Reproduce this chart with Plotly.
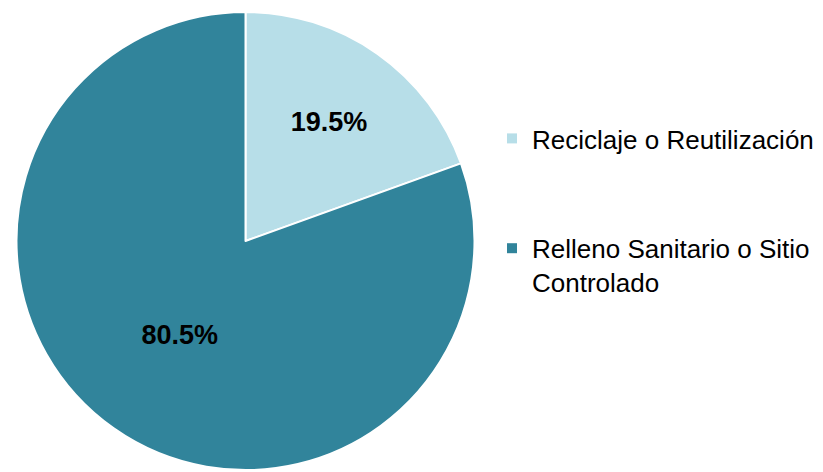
import plotly.graph_objects as go

categories = ["Reciclaje o Reutilización", "Relleno Sanitario o Sitio Controlado"]
legend_names = ["Reciclaje o Reutilización", "Relleno Sanitario o Sitio<br>Controlado"]
values = [19.5, 80.5]
colors = ["#B7DEE8", "#31849B"]

W, H = 823, 472
fig = go.Figure()
fig.add_trace(go.Pie(
    labels=categories, values=values, sort=False, direction="clockwise", rotation=0,
    marker=dict(colors=colors, line=dict(color="white", width=2)),
    texttemplate="<b>%{percent:.1%}</b>", textposition="inside",
    insidetextorientation="horizontal",
    textfont=dict(family="Arial, Liberation Sans", size=27, color="black"),
    showlegend=False, hoverinfo="skip",
    domain=dict(x=[7 / W, 468 / W], y=[10 / H, 468 / H]),
))
for i, (name, c) in enumerate(zip(legend_names, colors)):
    fig.add_trace(go.Scatter(
        x=[None], y=[None], mode="markers", name=name,
        marker=dict(symbol="square", size=10, color=c),
        legendgroup=f"g{i}", showlegend=True,
    ))

fig.update_layout(
    width=W, height=H, margin=dict(l=0, r=0, t=0, b=0),
    paper_bgcolor="white", plot_bgcolor="white",
    xaxis=dict(visible=False), yaxis=dict(visible=False),
    font=dict(family="Arial, Liberation Sans", size=26, color="black"),
    legend=dict(x=484 / W, y=1 - 107 / H, xanchor="left", yanchor="top",
                tracegroupgap=73, valign="top", itemwidth=30,
                font=dict(family="Arial, Liberation Sans", size=26, color="black"),
                bgcolor="rgba(0,0,0,0)"),
)
fig.write_html("out.html")
